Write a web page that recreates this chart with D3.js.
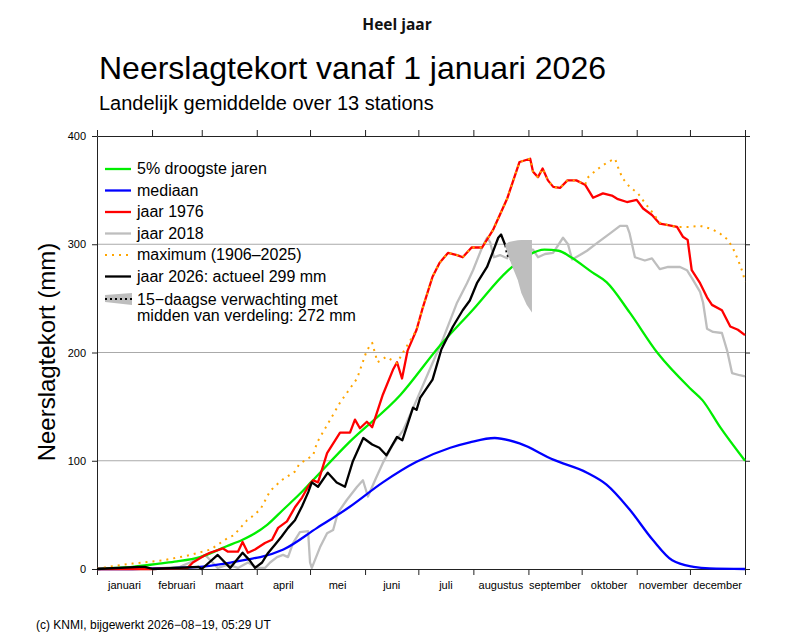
<!DOCTYPE html>
<html>
<head>
<meta charset="utf-8">
<script src="https://cdn.jsdelivr.net/npm/d3@7"></script>
<style>
  body { margin: 0; background: #fff; }
  svg { display: block; font-family: "Liberation Sans", Arial, sans-serif; }
</style>
</head>
<body>
<script>
// global variables
const W = 798;
const H = 640;
const p = { t: 136, r: 53, b: 71, l: 97 };
// ----------

// month boundaries (day of year) & labels
const monthStarts = [0, 31, 59, 90, 120, 151, 181, 212, 243, 273, 304, 334, 365];
const monthNames = ["januari", "februari", "maart", "april", "mei", "juni", "juli",
  "augustus", "september", "oktober", "november", "december"];
const yTicks = [0, 100, 200, 300, 400];
const gridTicks = [100, 200, 300];
// ----------

// series: [day of year, mm]
const dry5 = [[0,0],[10,1],[20,2],[35,5],[45,7],[58,11],[73,21],[82,27],[88,32],[96,41],[105,55],
  [114,69],[121,81],[142,117],[171,161],[193,206],[212,240],[231,275],[243,290],[252,295],
  [260,294],[267,288],[279,274],[287,265],[300,237],[316,199],[334,167],[341,156],[351,131],[365,100]];

const median = [[0,0],[20,0],[31,0.5],[45,1],[58,2],[72,5],[85,9],[92,11],[105,18],[124,38],
  [142,57],[161,80],[180,99],[199,112],[210,117],[224,121],[238,116],[257,101],[276,89],
  [287,78],[300,55],[313,27],[324,8],[336,2],[345,0.5],[365,0]];

const y1976 = [[0,0],[30,0],[51,1],[54,6],[61,13],[63.6,15],[71,19],[73.8,16],[79.4,16],[82,25],
  [85,15],[89,18],[94.6,24],[98.6,27],[102,38],[107,44],[111.5,57],[115.5,66],[118.9,76],
  [121.7,82],[124.5,80],[129.6,107],[136.9,126],[142.5,126],[145.3,138],[148.1,130],[152,136],
  [155,131],[161,161],[166.7,184],[169,191],[171.8,176],[175,202],[180,221],[183.6,242],
  [189,270],[193,283],[197.7,292],[202.8,290],[206,288],[211,297],[216.9,297],[223,313],
  [231,342],[238,376],[244,379],[245.6,367],[248.4,362],[251,370],[254,359],[257,353],
  [260.8,352],[265,359],[270,359],[274.9,355],[279.4,343],[285,347],[290,345],[293,342],
  [298.5,339],[304,341],[307.6,333],[312.6,327],[317,319],[321,318],[326.7,316],[330,307],
  [332.7,304],[335,276],[339.7,264],[343.6,251],[346.4,244],[352,239],[356.7,224],[361,221],[365,216]];

const y2018 = [[0,0],[30,0],[46.8,2],[49.6,4],[52.4,6],[61,13],[68,1],[74,4],[79.4,1],[85,6],
  [90.7,1],[94.6,1],[97.5,6],[101.4,11],[104.8,13],[107.6,11],[110.4,24],[114.3,34],[118.9,35],
  [120,6],[121,1],[125.6,20],[129.6,33],[133,36],[135.7,52],[140.8,64],[146.5,76],[149.8,82],
  [152.6,67],[156.6,82],[161,98],[166.7,115],[172.4,128],[180,156],[187.6,185],[195,213],
  [202.8,246],[208.4,264],[211.8,276],[216.9,297],[219.7,306],[221.4,302],[223.6,288],[227,290],
  [231,287],[234.3,301],[238.3,293],[242,295],[245.6,295],[248.4,288],[252.4,291],[256.9,292],
  [262.5,306],[265.3,300],[267.6,286],[272,290],[276,294],[281.6,301],[289,310],[294.6,317],
  [298.5,317],[300,310],[303,288],[308.6,285],[312.6,287],[317,277],[321.7,279],[328.4,279],
  [332.3,276],[335.7,267],[339.7,256],[341.4,246],[343.6,222],[347,219],[352,218],[354.9,202],
  [357.7,181],[362,179],[365,178]];

const y2026 = [[0,0],[24,2],[27,2],[31.5,0],[57,2],[59,0],[68,13],[75,1],[82,15],[86,8],[89,1],
  [93,6],[96,14],[100,22],[104,30],[107.6,38],[111.5,45],[115.5,58],[119,71],[121,80],[124.5,76],
  [130,89],[135,80],[139.7,76],[144,99],[150,121],[155,115],[159,112],[163,105],[169,122],
  [172,119],[178,149],[180,147],[182,158],[189,175],[194,203],[200.5,224],[206,239],[210,248],
  [214,264],[219.7,279],[223,293],[226,306],[227.6,309],[230,299]];

// maximum (1906-2025): only the stretches where it leaves the 1976 line
const maxEarly = [[0,0],[6,2],[20,5],[37,8],[50,12],[64,18],[74,29],[77,31],[84.5,45],[87,48],
  [92,55],[97.5,72],[100,76],[104,82],[111.5,90],[114,97],[121.7,105],[124,117],[137,154],
  [146.5,176],[152,202],[155,209],[158,191],[163,196],[169,190],[172,199],[176,210],[180,221]];
const maxBump = [[275,355],[276,361],[281.6,369],[287.8,376],[291.8,379],[293.5,371],[296,361],
  [300,353],[304.7,347],[308.7,338],[312.6,330],[317,320]];
const maxLate = [[326.7,316],[334,316],[339.7,317],[346.4,314],[350.9,310],[355.4,304],
  [358.3,296],[361,286],[363.9,273],[365,265]];

// 15-daagse verwachting
const fcMid = [[230,299],[231,290],[233,286],[235,283],[237,283],[239,283],[241,278],[244,272]];
const fcLo = [[230,298],[232,288],[234,279],[237,267],[239,255],[242,244],[245,237]];
const fcHi = [[230,300],[232,302],[235,303],[238,304],[241,304],[245,304]];
// ----------

const colors = {
  dry: "#00ee00",
  med: "#0000ff",
  y76: "#ff0000",
  y18: "#bebebe",
  max: "#ffa500",
  y26: "#000000",
  band: "#bebebe",
};
const lw = 2.3;

const renderD3 = () => {
  const svg = d3.select("body").append("svg").attr("width", W).attr("height", H);

  const x = d3.scaleLinear().domain([0, 365]).range([p.l, W - p.r]);
  const y = d3.scaleLinear().domain([0, 400]).range([H - p.b, p.t]);

  // titles
  svg.append("text")
    .text("Heel jaar")
    .attr("x", 397).attr("y", 30)
    .attr("text-anchor", "middle")
    .style("font-family", "'Open Sans', sans-serif")
    .style("font-weight", "bold")
    .style("font-size", "15.5px")
    .attr("fill", "#111");
  svg.append("text")
    .text("Neerslagtekort vanaf 1 januari 2026")
    .attr("x", 99).attr("y", 79)
    .style("font-size", "32px");
  svg.append("text")
    .text("Landelijk gemiddelde over 13 stations")
    .attr("x", 99).attr("y", 110)
    .style("font-size", "20px");
  svg.append("text")
    .text("Neerslagtekort (mm)")
    .attr("transform", "translate(55, 352) rotate(-90)")
    .attr("text-anchor", "middle")
    .style("font-size", "24px");
  svg.append("text")
    .text("(c) KNMI, bijgewerkt 2026\u221208\u221219, 05:29 UT")
    .attr("x", 36).attr("y", 629)
    .style("font-size", "12px");
  // ----------

  // grid
  svg.append("g")
    .selectAll("line")
    .data(gridTicks)
    .enter()
    .append("line")
    .attr("x1", x(0)).attr("x2", x(365))
    .attr("y1", (d) => y(d)).attr("y2", (d) => y(d))
    .attr("stroke", "#aaa")
    .attr("stroke-width", 1);

  // axes
  const axisStyle = (g) => {
    g.selectAll("path, line").attr("stroke", "#222");
    g.selectAll("text").style("font-family", "'Liberation Sans', Arial, sans-serif")
      .style("font-size", "11px").attr("fill", "#000");
  };
  svg.append("g")
    .attr("transform", `translate(0, ${y(0)})`)
    .call(d3.axisBottom(x).tickValues(monthStarts).tickFormat("").tickSize(6).tickSizeOuter(0))
    .call(axisStyle);
  svg.append("g")
    .attr("transform", `translate(0, ${y(400)})`)
    .call(d3.axisTop(x).tickValues(monthStarts).tickFormat("").tickSize(6).tickSizeOuter(0))
    .call(axisStyle);
  svg.append("g")
    .attr("transform", `translate(${x(0)}, 0)`)
    .call(d3.axisLeft(y).tickValues(yTicks).tickSize(5).tickPadding(6).tickSizeOuter(0))
    .call(axisStyle);
  svg.append("g")
    .attr("transform", `translate(${x(365)}, 0)`)
    .call(d3.axisRight(y).tickValues(yTicks).tickFormat("").tickSize(5).tickSizeOuter(0))
    .call(axisStyle);

  svg.append("g")
    .selectAll("text")
    .data(monthNames)
    .enter()
    .append("text")
    .text((d) => d)
    .attr("x", (d, i) => x((monthStarts[i] + monthStarts[i + 1]) / 2))
    .attr("y", y(0) + 20)
    .attr("text-anchor", "middle")
    .style("font-size", "11px");
  // ----------

  // lines
  const lineGen = d3.line().x((d) => x(d[0])).y((d) => y(d[1]));
  const smoothGen = d3.line().x((d) => x(d[0])).y((d) => y(d[1])).curve(d3.curveMonotoneX);

  const plot = svg.append("g").attr("fill", "none").attr("stroke-linejoin", "round");

  plot.append("path").attr("d", lineGen(y2018))
    .attr("stroke", colors.y18).attr("stroke-width", lw);
  plot.append("path").attr("d", smoothGen(dry5))
    .attr("stroke", colors.dry).attr("stroke-width", lw);
  plot.append("path").attr("d", smoothGen(median))
    .attr("stroke", colors.med).attr("stroke-width", lw);
  plot.append("path").attr("d", lineGen(y1976))
    .attr("stroke", colors.y76).attr("stroke-width", lw);

  const maxAll = [].concat(
    maxEarly,
    y1976.filter((d) => d[0] > 180 && d[0] < 275),
    maxBump,
    y1976.filter((d) => d[0] > 317 && d[0] < 326.7),
    maxLate
  );
  plot.append("path").attr("d", lineGen(maxAll))
    .attr("stroke", colors.max).attr("stroke-width", 2)
    .attr("stroke-dasharray", "2 5");

  // forecast band
  const area = d3.area()
    .x((d) => x(d[0]))
    .y0((d) => y(d[1]))
    .y1((d) => y(d[2]));
  const hiAt = d3.scaleLinear().domain(fcHi.map((d) => d[0])).range(fcHi.map((d) => d[1]));
  const band = fcLo.map((d) => [d[0], d[1], hiAt(d[0])]);
  svg.append("path").attr("d", area(band)).attr("fill", colors.band);

  plot.append("path").attr("d", lineGen(y2026))
    .attr("stroke", colors.y26).attr("stroke-width", lw);
  plot.append("path").attr("d", lineGen(fcMid))
    .attr("stroke", "#000").attr("stroke-width", 2)
    .attr("stroke-dasharray", "2 3");
  // ----------

  // legend
  const legendItems = [
    { label: "5% droogste jaren", color: colors.dry },
    { label: "mediaan", color: colors.med },
    { label: "jaar 1976", color: colors.y76 },
    { label: "jaar 2018", color: colors.y18 },
    { label: "maximum (1906\u20132025)", color: colors.max, dash: "2 5", w: 2 },
    { label: "jaar 2026: actueel 299 mm", color: colors.y26 },
  ];
  const lg = svg.append("g").attr("id", "legend");
  const ly = (i) => 169 + i * 21.5;
  lg.selectAll("line")
    .data(legendItems)
    .enter()
    .append("line")
    .attr("x1", 105).attr("x2", 131)
    .attr("y1", (d, i) => ly(i)).attr("y2", (d, i) => ly(i))
    .attr("stroke", (d) => d.color)
    .attr("stroke-width", (d) => d.w || lw)
    .attr("stroke-dasharray", (d) => d.dash || null);
  lg.selectAll("text")
    .data(legendItems)
    .enter()
    .append("text")
    .text((d) => d.label)
    .attr("x", 137)
    .attr("y", (d, i) => ly(i) + 5)
    .style("font-size", "16px");

  lg.append("path")
    .attr("d", "M105,295L132,293L132,305L105,302Z")
    .attr("fill", colors.band);
  lg.append("line")
    .attr("x1", 105).attr("x2", 132).attr("y1", 299).attr("y2", 299)
    .attr("stroke", "#000").attr("stroke-width", 2).attr("stroke-dasharray", "2 3");
  lg.append("text").text("15\u2212daagse verwachting met").attr("x", 137).attr("y", 305).style("font-size", "16px");
  lg.append("text").text("midden van verdeling: 272 mm").attr("x", 137).attr("y", 321).style("font-size", "16px");
  // ----------
};

document.addEventListener("DOMContentLoaded", renderD3);
</script>
</body>
</html>
